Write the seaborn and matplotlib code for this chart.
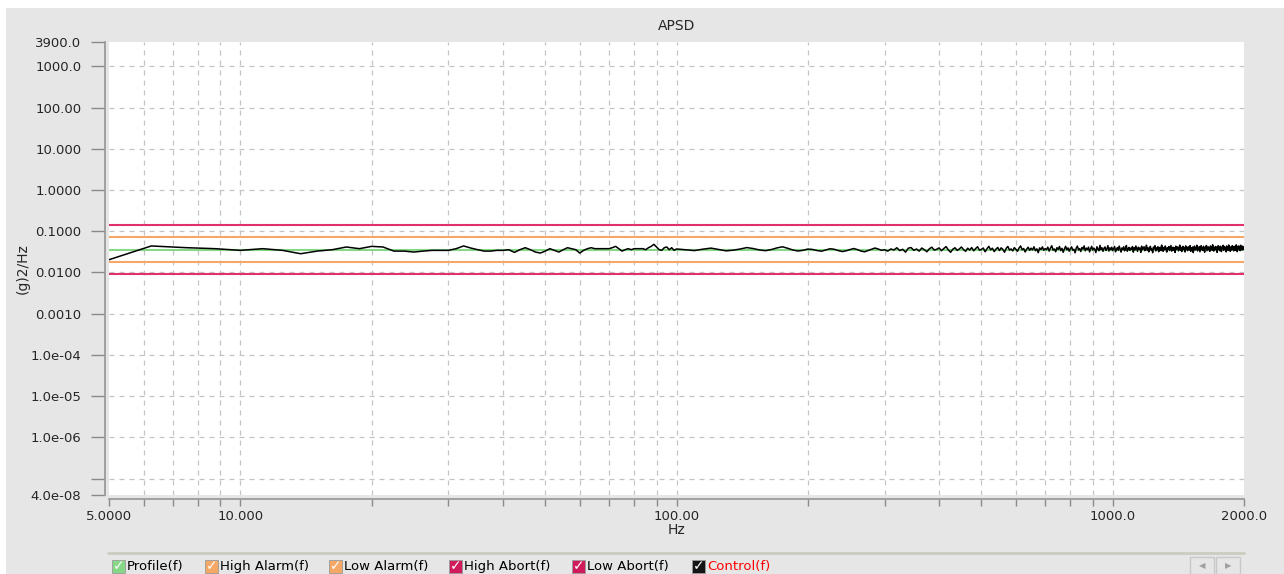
import matplotlib
matplotlib.use("Agg")
import matplotlib.pyplot as plt
import matplotlib.ticker as ticker
from matplotlib.patches import Rectangle
import numpy as np
import pandas as pd
import seaborn as sns

# ---- data ----
freq_low = np.arange(5, 100, 1.25)          # 1.25 Hz bins, 5 .. 98.75 Hz
freq_high = np.arange(100, 2000.1, 5)       # coarser bins, 100 .. 2000 Hz

# control spectrum, in units of 1e-4 (g)2/Hz
control_low_e4 = [
    204, 440, 400, 378, 344, 378, 344, 285, 330, 357, 415, 378, 430, 415, 330, 330,
    313, 330, 344, 344, 344, 378, 440, 392, 357, 330, 330, 344, 344, 357, 307, 357,
    399, 357, 313, 296, 330, 378, 344, 313, 357, 399, 378, 357, 296, 344, 378, 399,
    378, 378, 378, 378, 378, 399, 430, 378, 330, 357, 378, 357, 378, 378, 378, 378,
    357, 399, 430, 482, 415, 357, 344, 399, 415, 357, 399, 344,
]
control_high_e4 = [
    372, 355, 340, 368, 390, 362, 335, 348, 371, 402, 380, 352, 338, 360, 395, 420,
    385, 350, 332, 345, 370, 362, 341, 328, 352, 377, 365, 340, 322, 336, 360, 381,
    358, 330, 318, 342, 368, 392, 371, 345, 356,
    330, 372, 351, 398, 340, 365, 312, 389, 402, 345, 371, 330, 392, 356, 318, 377, 410, 348, 366, 395,
    338, 381, 424, 352, 309, 367, 398, 343, 372, 415, 360, 326, 388, 351, 402, 336, 379, 421, 347, 365,
    392, 318, 376, 430, 355, 388, 321, 369, 405, 341, 396, 362, 310, 385, 428, 350, 372, 334, 401, 365,
    327, 392, 440, 356, 381, 315, 368, 410, 345, 389, 352, 420, 337, 374, 302, 395, 361, 418, 345, 380,
    356, 412, 331, 390, 445, 348, 372, 318, 400, 363, 426, 340, 385, 309, 371, 432, 354, 395, 328, 381,
    418, 347, 365, 300, 392, 436, 352, 380, 322, 405, 368, 441, 335, 389, 358, 412, 316, 376, 430, 349,
    392, 362, 305, 420, 371, 338, 455, 360, 398, 325, 384, 415, 342, 370, 448, 331, 396, 357, 410, 339,
    380, 428, 318, 366, 402, 345, 437, 372, 312, 393, 358, 420, 336, 384, 451, 328, 370, 405, 342, 389,
    362, 425, 311, 398, 352, 440, 376, 325, 410, 366, 392, 308, 435, 355, 380, 420, 338, 372, 458, 345,
    398, 316, 386, 430, 350, 368, 302, 412, 377, 446, 334, 395, 360, 421, 318, 384, 408, 340, 462, 371,
    326, 402, 355, 438, 381, 312, 395, 367, 425, 340, 388, 452, 330, 374, 410, 346, 398, 306, 436, 362,
    390, 418, 335, 372, 460, 348, 406, 322, 384, 430, 357, 395, 314, 442, 369, 401, 338, 420, 376, 352,
    448, 326, 392, 368, 415, 303, 386, 437, 350, 405, 372, 458, 334, 398, 362, 425, 318, 380, 446, 358,
    392, 342, 432, 370, 310, 404, 385, 452, 338, 376, 420, 355, 397, 325, 441, 368, 409, 346, 470, 382,
    330, 398, 365, 428, 352, 412, 308, 386, 445, 361, 402, 337, 435, 378, 322, 416, 390, 456, 345, 372,
    426, 358, 394, 316, 440, 380, 410, 342, 465, 371, 398, 327, 418, 388, 350, 447, 366, 405, 334, 430,
    378, 412, 345, 468, 392, 320, 426, 383, 440, 356, 402, 338, 458, 375, 418, 350, 435, 392, 362, 410,
]

freq_range = [5, 2000]
profile_level = 0.036
high_alarm = 0.072
low_alarm = 0.018
high_abort = 0.144
low_abort = 0.009

legend_names = ["Profile(f)", "High Alarm(f)", "Low Alarm(f)", "High Abort(f)", "Low Abort(f)", "Control(f)"]

y_major = [1e-7, 1e-6, 1e-5, 1e-4, 1e-3, 1e-2, 1e-1, 1, 10, 100, 1000]
y_major_labels = ["", "1.0e-06", "1.0e-05", "1.0e-04", "0.0010", "0.0100", "0.1000",
                  "1.0000", "10.000", "100.00", "1000.0"]
y_edge = [4e-8, 3900]
y_edge_labels = ["4.0e-08", "3900.0"]
x_major = [5, 10, 100, 1000, 2000]
x_major_labels = ["5.0000", "10.000", "100.00", "1000.0", "2000.0"]
x_minor = [6, 7, 8, 9, 20, 30, 40, 50, 60, 70, 80, 90, 200, 300, 400, 500, 600, 700, 800, 900]

# ---- styling ----
GREEN = "#86d886"
ORANGE = "#f5a865"
CRIMSON = "#e2306e"
GRID = "#c4c4c4"
PANEL = "#e6e6e6"
W, H = 1284, 574

sns.set_style("white")
plt.rcParams["font.family"] = ["DejaVu Sans"]
plt.rcParams["font.size"] = 9.5

fig = plt.figure(figsize=(W / 100, H / 100), dpi=100)
fig.patch.set_facecolor("white")
fig.add_artist(Rectangle((6 / W, 0), 1, 1 - 8 / H, transform=fig.transFigure,
                         facecolor=PANEL, edgecolor="none", zorder=-5))

ax = fig.add_axes([109 / W, 79 / H, 1135 / W, 453 / H])
ax.set_facecolor("white")

control_df = pd.DataFrame({
    "Hz": np.concatenate([freq_low, freq_high]),
    "APSD": np.array(control_low_e4 + control_high_e4) * 1e-4,
})

limits = [
    (profile_level, GREEN),
    (high_alarm, ORANGE),
    (low_alarm, ORANGE),
    (high_abort, CRIMSON),
    (low_abort, CRIMSON),
]
for level, col in limits:
    sns.lineplot(x=freq_range, y=[level, level], ax=ax, color=col, linewidth=1.5, zorder=2)

sns.lineplot(data=control_df, x="Hz", y="APSD", ax=ax, color="black", linewidth=1.1,
             estimator=None, sort=False, zorder=3)

ax.set_xscale("log")
ax.set_yscale("log")
ax.set_xlim(5, 2000)
ax.set_ylim(4e-8, 3900)

# grid (dashed, only on decades / minor frequency lines)
for v in y_major:
    ax.axhline(v, color=GRID, linestyle=(0, (4, 4)), linewidth=0.9, zorder=1)
for v in x_minor + [10, 100, 1000]:
    ax.axvline(v, color=GRID, linestyle=(0, (4, 4)), linewidth=0.9, zorder=1)

ax.yaxis.set_major_locator(ticker.FixedLocator(y_major))
ax.yaxis.set_major_formatter(ticker.FixedFormatter(y_major_labels))
ax.yaxis.set_minor_locator(ticker.FixedLocator(y_edge))
ax.yaxis.set_minor_formatter(ticker.FixedFormatter(y_edge_labels))
ax.xaxis.set_major_locator(ticker.FixedLocator(x_major))
ax.xaxis.set_major_formatter(ticker.FixedFormatter(x_major_labels))
ax.xaxis.set_minor_locator(ticker.FixedLocator(x_minor))
ax.xaxis.set_minor_formatter(ticker.NullFormatter())

ax.tick_params(axis="y", which="both", length=10, width=1, color="#8a8a8a", pad=7,
               labelsize=9.5, left=True)
ax.tick_params(axis="x", which="both", length=5, width=1, color="#8a8a8a", pad=3,
               labelsize=9.5, bottom=True)

for side in ["top", "right"]:
    ax.spines[side].set_visible(False)
for side in ["left", "bottom"]:
    ax.spines[side].set_color("#9a9a9a")
    ax.spines[side].set_linewidth(1.3)
    ax.spines[side].set_position(("outward", 3))

ax.set_title("APSD", fontsize=10, pad=9)
ax.set_xlabel("Hz", fontsize=10, labelpad=0)
ax.set_ylabel("(g)2/Hz", fontsize=10)
ax.yaxis.set_label_coords((30 - 109) / 1135, 0.5)

# legend strip along the bottom
fig.add_artist(plt.Line2D([108 / W, 1244 / W], [1 - 553 / H] * 2, transform=fig.transFigure,
                          color="#c9cdbd", linewidth=2))
box_x = [112, 205, 329, 449, 572, 692]
box_col = [GREEN, ORANGE, ORANGE, "#d01a5c", "#d01a5c", "#151515"]
for bx, bc, name in zip(box_x, box_col, legend_names):
    fig.add_artist(Rectangle((bx / W, 1 - 573 / H), 13 / W, 13 / H, transform=fig.transFigure,
                             facecolor=bc, edgecolor="#9a9a9a", linewidth=0.6))
    fig.text((bx + 6.5) / W, 1 - 566.5 / H, "\u2713", color="white", fontsize=10,
             ha="center", va="center", fontweight="bold")
    fig.text((bx + 15) / W, 1 - 566.5 / H, name, fontsize=9.5, va="center", ha="left",
             color="red" if name == "Control(f)" else "black")

for bx, glyph in [(1190, "\u25c0"), (1216, "\u25b6")]:
    fig.add_artist(Rectangle((bx / W, 0), 24 / W, 17 / H, transform=fig.transFigure,
                             facecolor=PANEL, edgecolor="#c8c8c8", linewidth=1))
    fig.text((bx + 12) / W, 8.5 / H, glyph, color="#a0a0a0", fontsize=6, ha="center", va="center")

fig.savefig("out.png", dpi=100)
plt.close("all")
